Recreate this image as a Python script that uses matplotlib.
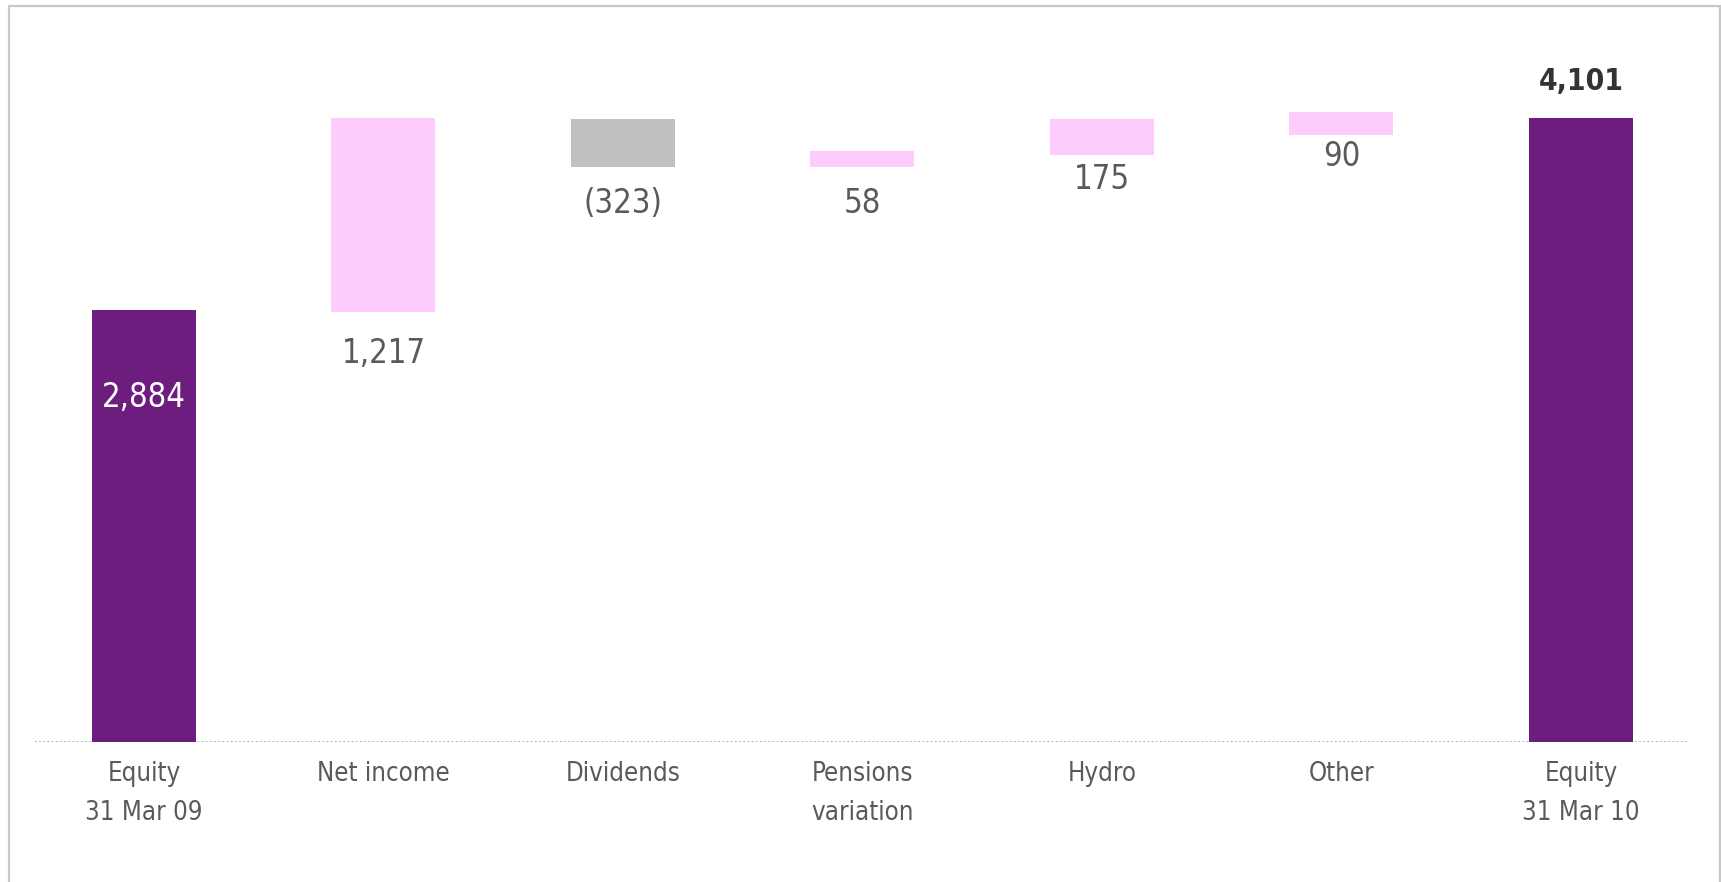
import matplotlib
matplotlib.use("Agg")
import matplotlib.pyplot as plt
from matplotlib.patches import Rectangle

# categories and values (labels as printed)
categories = ["Equity\n31 Mar 09", "Net income", "Dividends", "Pensions\nvariation",
              "Hydro", "Other", "Equity\n31 Mar 10"]
value_labels = ["2,884", "1,217", "(323)", "58", "175", "90", "4,101"]

# bar extents as drawn in the picture (estimated)
bar_low = [0, 2825, 3780, 3780, 3860, 3990, 0]
bar_high = [2840, 4100, 4095, 3885, 4095, 4140, 4101]

PURPLE = "#6d1d7d"
PINK = "#fdccfd"
GREY = "#c0c0c0"
TEXT = "#5a5a5a"

colors = [PURPLE, PINK, GREY, PINK, PINK, PINK, PURPLE]

plt.rcParams["font.family"] = "DejaVu Sans"
plt.rcParams["font.stretch"] = "condensed"

W, H = 1721, 882
fig = plt.figure(figsize=(W / 100, H / 100), dpi=100)
ax = fig.add_axes([35 / W, (H - 742) / H, (1687 - 35) / W, 722 / H])

x = list(range(len(categories)))
heights = [h - l for l, h in zip(bar_low, bar_high)]
ax.bar(x, heights, bottom=bar_low, width=0.434, color=colors, zorder=2)

ax.set_xlim(-0.455, 6.443)
ax.set_ylim(0, 4745)
for s in ax.spines.values():
    s.set_visible(False)
ax.set_yticks([])
ax.set_xticks(x)
ax.set_xticklabels(categories, fontsize=18.5, color=TEXT, linespacing=1.62)
ax.tick_params(axis="x", length=0, pad=14)
ax.axhline(0, color="#a0a0a0", lw=1.2, ls=(0, (1, 1.5)), zorder=1)

# value labels
label_off = [None, -41, -37, -37, -25, -22, 36]  # px from bar end
for i, lab in enumerate(value_labels):
    if i == 0:
        ax.annotate(lab, (x[i], bar_high[i]), xytext=(0, -88 * 0.72),
                    textcoords="offset points", ha="center", va="center",
                    fontsize=23.5, color="white")
    elif i == len(value_labels) - 1:
        ax.annotate(lab, (x[i], bar_high[i]), xytext=(0, label_off[i] * 0.72),
                    textcoords="offset points", ha="center", va="center",
                    fontsize=21.5, color="#333333", fontweight="bold")
    else:
        ax.annotate(lab, (x[i], bar_low[i]), xytext=(0, label_off[i] * 0.72),
                    textcoords="offset points", ha="center", va="center",
                    fontsize=23.5, color=TEXT)

# light frame around the figure (bottom edge cut off)
fig.patches.append(Rectangle((9 / W, -0.05), (1720 - 9) / W, (H - 6) / H + 0.05,
                             transform=fig.transFigure, fill=False,
                             edgecolor="#c8c8c8", lw=1.6))

fig.savefig("out.png", dpi=100, facecolor="white")
